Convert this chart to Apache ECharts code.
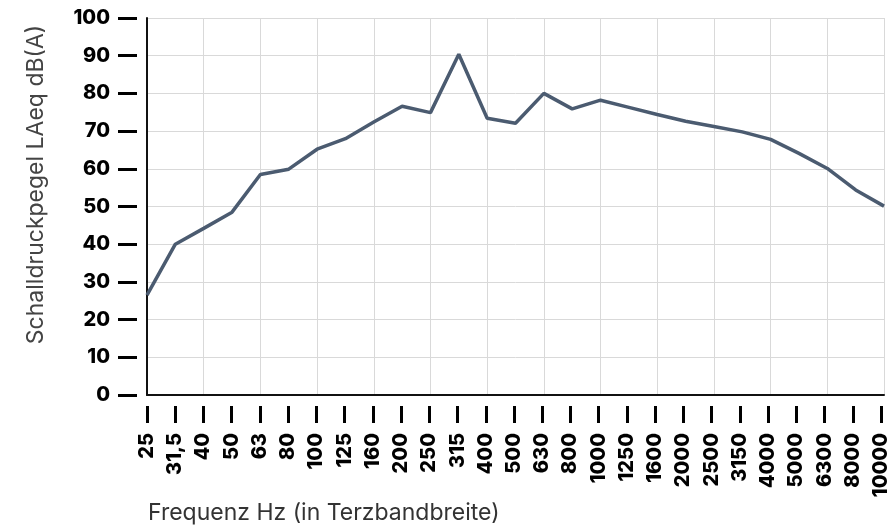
<!DOCTYPE html>
<html><head><meta charset="utf-8">
<script src="https://cdn.jsdelivr.net/npm/echarts@6/dist/echarts.min.js"></script>
<style>html,body{margin:0;padding:0;background:#fff}#c{width:891px;height:527px}</style>
</head><body><div id="c"></div>
<script>
var categories = ['25','31,5','40','50','63','80','100','125','160','200','250','315','400','500','630','800','1000','1250','1600','2000','2500','3150','4000','5000','6300','8000','10000'];
var values = [26.5,40.0,44.2,48.5,58.5,59.9,65.2,68.0,72.4,76.6,74.9,90.4,73.4,72.1,80.0,75.9,78.2,76.3,74.4,72.6,71.2,69.8,67.8,64.1,60.1,54.4,50.1];
var yTicks = {min:0, max:100, interval:10};
var xTitle = 'Frequenz Hz (in Terzbandbreite)';
var yTitle = 'Schalldruckpegel LAeq dB(A)';

var FONT = 'Inter, Lato, sans-serif';
var NFONT = 'Inter, "DejaVu Sans", sans-serif';
var chart = echarts.init(document.getElementById('c'), null, {renderer:'canvas'});
chart.setOption({
  animation:false,
  title:{text:xTitle,left:143,top:497,textStyle:{fontFamily:NFONT,fontWeight:'normal',fontSize:23,color:'#333'}},
  grid:[
    {left:147,right:7,top:18,bottom:132},
    {left:147,right:7,top:405,bottom:121}
  ],
  xAxis:[
    {type:'category',gridIndex:0,data:categories,boundaryGap:false,
     axisLine:{show:true,lineStyle:{color:'#111',width:2}},
     axisTick:{show:false},axisLabel:{show:false},
     splitLine:{show:true,lineStyle:{color:'#d9d9d9',width:1}}},
    {type:'category',gridIndex:1,data:categories,boundaryGap:false,position:'bottom',
     axisLine:{show:false},
     axisTick:{show:true,length:17,alignWithLabel:true,lineStyle:{color:'#000',width:3}},
     axisLabel:{show:true,rotate:90,margin:27,interval:0,fontFamily:FONT,fontWeight:800,fontSize:20,color:'#000'},
     splitLine:{show:false}}
  ],
  yAxis:[
    {type:'value',gridIndex:0,min:yTicks.min,max:yTicks.max,interval:yTicks.interval,
     name:yTitle,nameLocation:'middle',nameGap:99,
     nameTextStyle:{fontFamily:NFONT,fontSize:23,color:'#444',padding:[0,0,0,44]},
     axisLine:{show:true,lineStyle:{color:'#111',width:2}},
     axisTick:{show:false},axisLabel:{show:false},
     splitLine:{show:true,lineStyle:{color:'#d9d9d9',width:1}}},
    {type:'value',gridIndex:0,min:yTicks.min,max:yTicks.max,interval:yTicks.interval,position:'left',offset:10,
     axisLine:{show:false},
     axisTick:{show:true,length:19,lineStyle:{color:'#000',width:3}},
     axisLabel:{show:true,margin:27,fontFamily:FONT,fontWeight:800,fontSize:20,color:'#000'},
     splitLine:{show:false}},
    {type:'value',gridIndex:1,show:false}
  ],
  series:[{type:'line',data:values,xAxisIndex:0,yAxisIndex:0,symbol:'none',
    lineStyle:{color:'#4b5b70',width:3.5},z:5}]
});
</script></body></html>
